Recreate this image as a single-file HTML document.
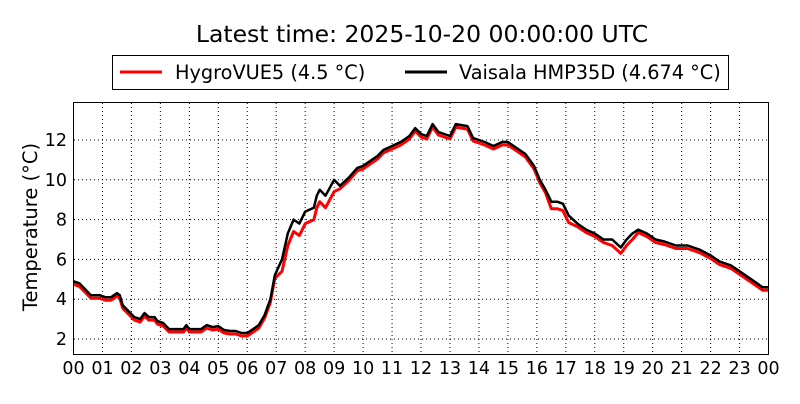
<!DOCTYPE html>
<html><head><meta charset="utf-8"><style>
body{margin:0;background:#fff;width:800px;height:400px;overflow:hidden;font-family:"DejaVu Sans",sans-serif}
</style></head><body>
<svg id="s" width="800" height="400" xmlns="http://www.w3.org/2000/svg" font-family="DejaVu Sans, sans-serif">
<rect width="800" height="400" fill="#fff"/>
<text x="422" y="42" font-size="23.5" text-anchor="middle">Latest time: 2025-10-20 00:00:00 UTC</text>
<rect x="112.5" y="55.5" width="616" height="34" fill="#fff" stroke="#000" stroke-width="1"/>
<line x1="120" y1="72" x2="162" y2="72" stroke="#f00" stroke-width="3"/>
<text x="175" y="79" font-size="19.3">HygroVUE5 (4.5 °C)</text>
<line x1="405" y1="72" x2="447" y2="72" stroke="#000" stroke-width="3"/>
<text x="459" y="79" font-size="19.3">Vaisala HMP35D (4.674 °C)</text>
<g id="grid"></g>
<g id="lines"></g>
<rect x="73.5" y="102.5" width="695" height="252" fill="none" stroke="#000" stroke-width="1"/>
<g id="labels" font-size="17.5"></g>
<text transform="translate(37,227) rotate(-90)" font-size="19.5" text-anchor="middle">Temperature (°C)</text>
</svg>
<script>
var X=h=>73.5+h*28.96, Y=v=>339-(v-2)*19.9;
var g='',l='';
for(var h=1;h<24;h++){g+='<line x1="'+X(h)+'" y1="103" x2="'+X(h)+'" y2="354" stroke="#000" stroke-width="1" stroke-dasharray="1,3"/>';}
for(var v=2;v<=12;v+=2){g+='<line x1="74" y1="'+Y(v)+'" x2="768" y2="'+Y(v)+'" stroke="#000" stroke-width="1" stroke-dasharray="1,3"/>';
l+='<text x="67" y="'+(Y(v)+6)+'" text-anchor="end">'+v+'</text>';}
for(var h=0;h<=24;h++){l+='<text x="'+X(h)+'" y="374" text-anchor="middle">'+String(h%24).padStart(2,'0')+'</text>';}
var b=[[0,4.9],[.2,4.8],[.4,4.5],[.6,4.2],[.9,4.2],[1.1,4.1],[1.3,4.1],[1.5,4.3],[1.6,4.2],[1.7,3.7],[1.9,3.4],[2.1,3.1],[2.3,3.0],[2.45,3.3],[2.6,3.1],[2.8,3.1],[2.9,2.9],[3.1,2.8],[3.3,2.5],[3.6,2.5],[3.8,2.5],[3.9,2.7],[4,2.5],[4.4,2.5],[4.6,2.7],[4.8,2.6],[5,2.65],[5.2,2.45],[5.4,2.4],[5.6,2.4],[5.8,2.3],[6,2.3],[6.2,2.5],[6.4,2.7],[6.6,3.2],[6.8,4.0],[6.95,5.2],[7.2,6.0],[7.4,7.3],[7.6,8.0],[7.8,7.8],[8,8.4],[8.3,8.6],[8.4,9.2],[8.5,9.5],[8.7,9.2],[9,10.0],[9.2,9.7],[9.5,10.1],[9.8,10.6],[10,10.7],[10.3,11.0],[10.5,11.2],[10.7,11.5],[11,11.7],[11.3,11.9],[11.6,12.2],[11.8,12.6],[12,12.3],[12.2,12.2],[12.4,12.8],[12.6,12.4],[12.8,12.3],[13,12.2],[13.2,12.8],[13.6,12.7],[13.8,12.1],[14.2,11.9],[14.5,11.7],[14.8,11.9],[15,11.9],[15.3,11.6],[15.6,11.3],[15.9,10.7],[16.1,10.0],[16.3,9.5],[16.5,8.9],[16.7,8.9],[16.9,8.8],[17.1,8.2],[17.4,7.8],[17.7,7.5],[18,7.3],[18.3,7.0],[18.6,7.0],[18.9,6.6],[19.1,7.0],[19.3,7.3],[19.5,7.5],[19.8,7.3],[20.1,7.0],[20.4,6.9],[20.8,6.7],[21.2,6.7],[21.6,6.5],[22,6.2],[22.3,5.9],[22.7,5.7],[23,5.4],[23.3,5.1],[23.6,4.8],[23.8,4.6],[24,4.6]];
function off(h){if(h>7&&h<9.2)return 0.6;if(h>16.3&&h<17.2)return 0.35;if(h>18.5&&h<19.5)return 0.3;return 0.15;}
var pr=b.map(p=>X(p[0]).toFixed(1)+','+Y(p[1]-off(p[0])).toFixed(1)).join(' ');
var pb=b.map(p=>X(p[0]).toFixed(1)+','+Y(p[1]).toFixed(1)).join(' ');
document.getElementById('grid').innerHTML=g;
document.getElementById('labels').innerHTML=l;
document.getElementById('lines').innerHTML='<polyline points="'+pr+'" fill="none" stroke="#f00" stroke-width="3" stroke-linejoin="round"/><polyline points="'+pb+'" fill="none" stroke="#000" stroke-width="2.5" stroke-linejoin="round"/>';
</script>
</body></html>
